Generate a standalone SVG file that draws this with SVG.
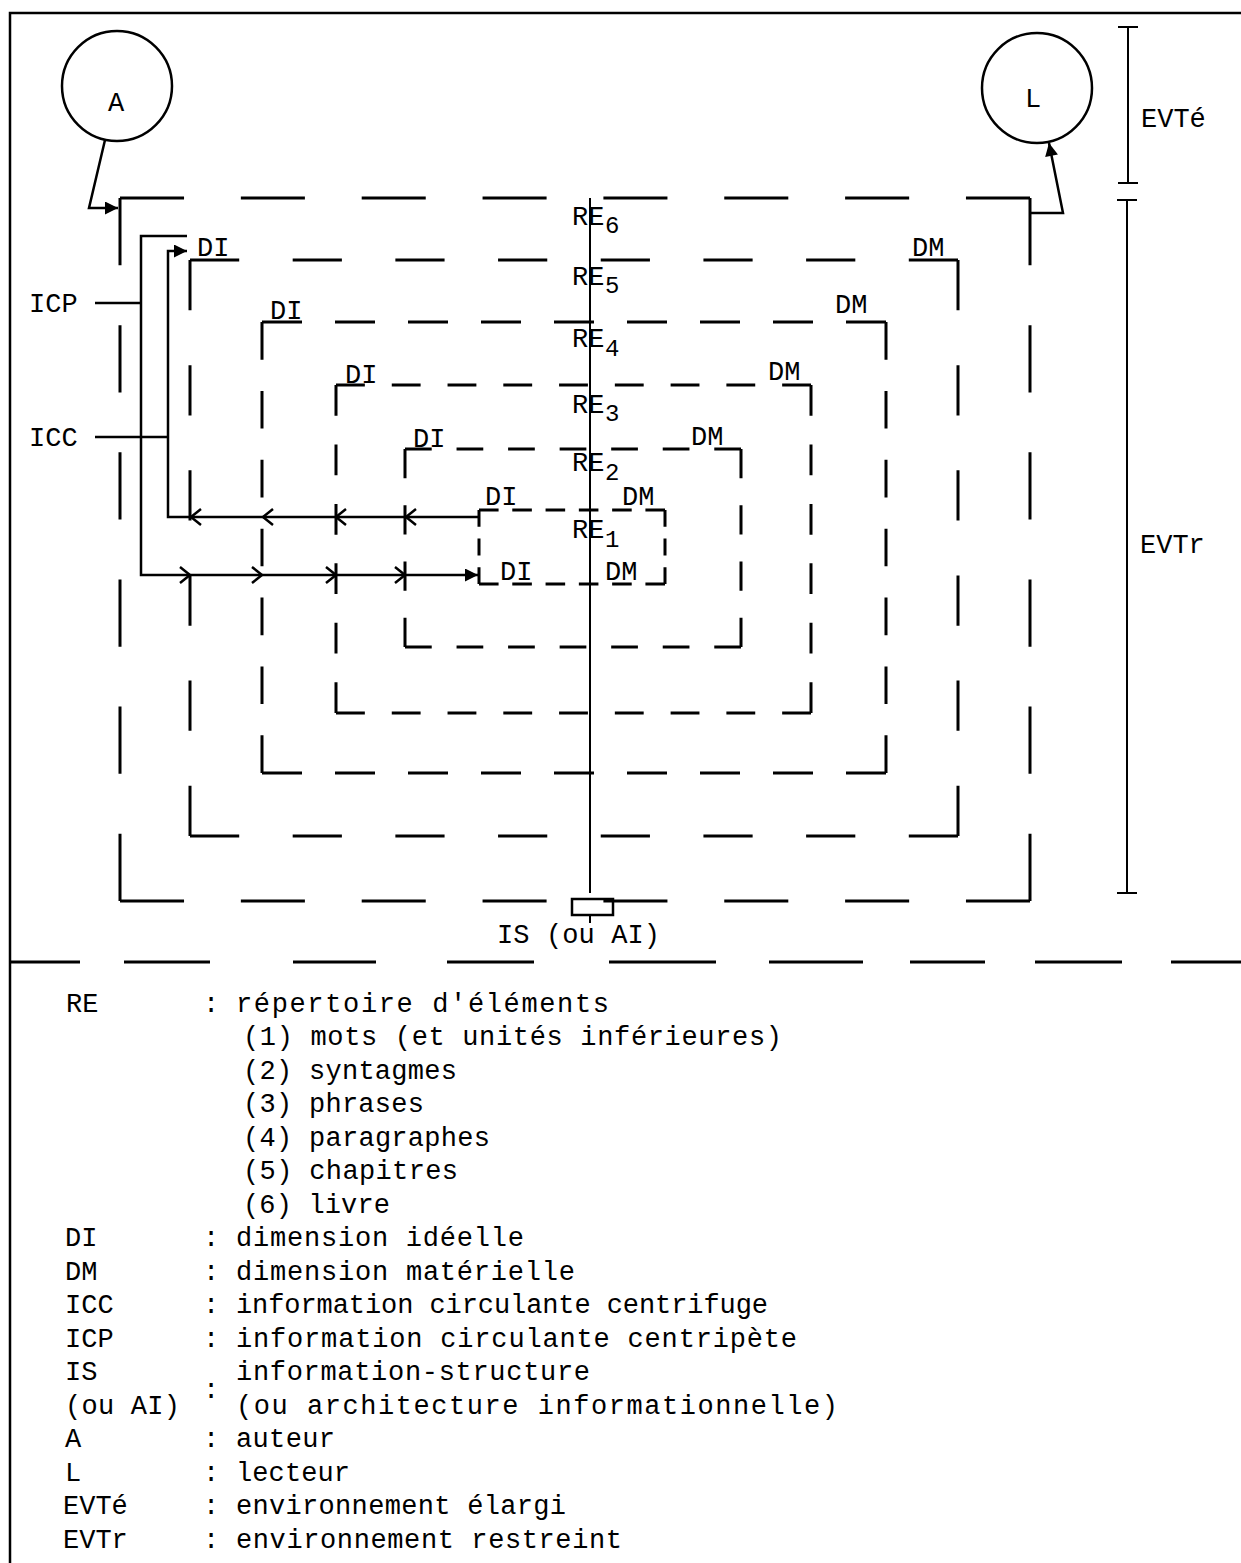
<svg xmlns="http://www.w3.org/2000/svg" width="1241" height="1563" viewBox="0 0 1241 1563">
<style>
.t{font-family:"Liberation Mono","DejaVu Sans Mono",monospace;font-size:27px;fill:#000}
.sub{font-family:"Liberation Mono","DejaVu Sans Mono",monospace;font-size:24px;fill:#000}
.frame{stroke:#000;stroke-width:2.5;fill:none}
.thin{stroke:#000;stroke-width:2;fill:none}
.ln{stroke:#000;stroke-width:2.5;fill:none}
.b6{stroke:#000;stroke-width:3;fill:none;stroke-dasharray:62 55}
.b5{stroke:#000;stroke-width:3;fill:none;stroke-dasharray:46 50}
.b4{stroke:#000;stroke-width:3;fill:none;stroke-dasharray:40 33}
.b3{stroke:#000;stroke-width:3;fill:none;stroke-dasharray:30 28}
.b2{stroke:#000;stroke-width:3;fill:none;stroke-dasharray:28 26}
.b1{stroke:#000;stroke-width:3;fill:none;stroke-dasharray:20 14}
.sep{stroke:#000;stroke-width:3;fill:none}
.chev{stroke:#000;stroke-width:2.5;fill:none}
.circ{stroke:#000;stroke-width:2.5;fill:#fff}
</style>
<defs>
<marker id="ah" viewBox="0 0 10 10" refX="10" refY="5" markerWidth="16" markerHeight="13" markerUnits="userSpaceOnUse" orient="auto">
<path d="M0,0 L10,5 L0,10 z" fill="#000"/>
</marker>
</defs>
<rect width="1241" height="1563" fill="#fff"/>
<g id="frame">
<path class="frame" d="M1241,13 H10 V1563"/>
<path class="sep" d="M10,962 H80 M124,962 H210 M293,962 H376 M447,962 H534 M609,962 H716 M769,962 H863 M910,962 H985 M1035,962 H1122 M1171,962 H1241"/>
</g>
<g id="box6">
<path class="b6" pathLength="881" d="M120,198 H1030"/>
<path class="b6" pathLength="647" d="M1030,198 V901"/>
<path class="b6" pathLength="881" d="M1030,901 H120"/>
<path class="b6" pathLength="647" d="M120,901 V198"/>
</g>
<g id="box5">
<path class="b5" pathLength="718" d="M190,260 H958"/>
<path class="b5" pathLength="526" d="M958,260 V836"/>
<path class="b5" pathLength="718" d="M958,836 H190"/>
<path class="b5" pathLength="526" d="M190,836 V260"/>
<text class="t" x="197" y="256">DI</text>
<text class="t" x="912" y="256">DM</text>
<text class="t" x="572" y="285">RE</text><text class="sub" x="605" y="293">5</text>
</g>
<g id="box4">
<path class="b4" pathLength="624" d="M262,322 H886"/>
<path class="b4" pathLength="478" d="M886,322 V773"/>
<path class="b4" pathLength="624" d="M886,773 H262"/>
<path class="b4" pathLength="478" d="M262,773 V322"/>
<text class="t" x="270" y="319">DI</text>
<text class="t" x="835" y="313">DM</text>
<text class="t" x="572" y="347">RE</text><text class="sub" x="605" y="356">4</text>
</g>
<g id="box3">
<path class="b3" pathLength="494" d="M336,385 H811"/>
<path class="b3" pathLength="320" d="M811,385 V713"/>
<path class="b3" pathLength="494" d="M811,713 H336"/>
<path class="b3" pathLength="320" d="M336,713 V385"/>
<text class="t" x="345" y="383">DI</text>
<text class="t" x="768" y="380">DM</text>
<text class="t" x="572" y="413">RE</text><text class="sub" x="605" y="421">3</text>
</g>
<g id="box2">
<path class="b2" pathLength="352" d="M405,449 H741"/>
<path class="b2" pathLength="190" d="M741,449 V647"/>
<path class="b2" pathLength="352" d="M741,647 H405"/>
<path class="b2" pathLength="190" d="M405,647 V449"/>
<text class="t" x="413" y="447">DI</text>
<text class="t" x="691" y="445">DM</text>
<text class="t" x="572" y="471">RE</text><text class="sub" x="605" y="480">2</text>
</g>
<g id="box1">
<path class="b1" pathLength="190" d="M479,510 H665"/>
<path class="b1" pathLength="88" d="M665,510 V584"/>
<path class="b1" pathLength="190" d="M665,584 H479"/>
<path class="b1" pathLength="88" d="M479,584 V510"/>
<text class="t" x="485" y="505">DI</text>
<text class="t" x="622" y="505">DM</text>
<text class="t" x="572" y="538">RE</text><text class="sub" x="605" y="547">1</text>
<text class="t" x="500" y="580">DI</text>
<text class="t" x="605" y="580">DM</text>
</g>
<g id="re6">
<text class="t" x="572" y="225">RE</text><text class="sub" x="605" y="233">6</text>
</g>
<g id="nodeA">
<circle class="circ" cx="117" cy="86" r="55"/>
<text class="t" x="108" y="111">A</text>
</g>
<g id="nodeL">
<circle class="circ" cx="1037" cy="88" r="55"/>
<text class="t" x="1025" y="107">L</text>
</g>
<g id="nodeIS">
<rect class="ln" x="572" y="899" width="41" height="16"/>
<path class="thin" d="M590,915 V923"/>
<text class="t" x="497" y="943" textLength="163" lengthAdjust="spacing">IS (ou AI)</text>
</g>
<g id="labels">
<text class="t" x="29" y="312">ICP</text>
<text class="t" x="29" y="446">ICC</text>
<text class="t" x="1141" y="127">EVTé</text>
<text class="t" x="1140" y="553">EVTr</text>
</g>
<g id="connectors">
<path class="thin" d="M590,198 V893"/>
<path class="ln" d="M105,140 L89,208 L118,208" marker-end="url(#ah)"/>
<path class="ln" d="M1030,213 H1063 L1049,143" marker-end="url(#ah)"/>
<path class="ln" d="M95,303 H141"/>
<path class="ln" d="M95,437 H168"/>
<path class="ln" d="M187,236 H141 V575 H478" marker-end="url(#ah)"/>
<path class="ln" d="M479,517 H168 V251 H187" marker-end="url(#ah)"/>
<path class="chev" d="M201,509 L191,517 L201,525 M273,509 L263,517 L273,525 M346,509 L336,517 L346,525 M416,509 L406,517 L416,525"/>
<path class="chev" d="M180,567 L190,575 L180,583 M252,567 L262,575 L252,583 M326,567 L336,575 L326,583 M395,567 L405,575 L395,583"/>
<path class="thin" d="M1118,27 H1138 M1128,27 V183 M1118,183 H1138"/>
<path class="thin" d="M1117,200 H1137 M1127,200 V893 M1117,893 H1137"/>
</g>
<g id="legend">
<text class="t" x="66" y="1012">RE</text><text class="t" x="203" y="1012">:</text><text class="t" x="236" y="1012" textLength="373" lengthAdjust="spacing">répertoire d'éléments</text>
<text class="t" x="243" y="1045" textLength="539" lengthAdjust="spacing">(1) mots (et unités inférieures)</text>
<text class="t" x="243" y="1079" textLength="214" lengthAdjust="spacing">(2) syntagmes</text>
<text class="t" x="243" y="1112" textLength="181" lengthAdjust="spacing">(3) phrases</text>
<text class="t" x="243" y="1146" textLength="247" lengthAdjust="spacing">(4) paragraphes</text>
<text class="t" x="243" y="1179" textLength="215" lengthAdjust="spacing">(5) chapitres</text>
<text class="t" x="243" y="1213" textLength="147" lengthAdjust="spacing">(6) livre</text>
<text class="t" x="65" y="1246">DI</text><text class="t" x="203" y="1246">:</text><text class="t" x="236" y="1246" textLength="288" lengthAdjust="spacing">dimension idéelle</text>
<text class="t" x="65" y="1280">DM</text><text class="t" x="203" y="1280">:</text><text class="t" x="236" y="1280" textLength="339" lengthAdjust="spacing">dimension matérielle</text>
<text class="t" x="65" y="1313">ICC</text><text class="t" x="203" y="1313">:</text><text class="t" x="236" y="1313" textLength="532" lengthAdjust="spacing">information circulante centrifuge</text>
<text class="t" x="65" y="1347">ICP</text><text class="t" x="203" y="1347">:</text><text class="t" x="236" y="1347" textLength="561" lengthAdjust="spacing">information circulante centripète</text>
<text class="t" x="65" y="1380">IS</text><text class="t" x="236" y="1380" textLength="354" lengthAdjust="spacing">information-structure</text>
<text class="t" x="203" y="1398">:</text>
<text class="t" x="65" y="1414" textLength="115" lengthAdjust="spacing">(ou AI)</text><text class="t" x="236" y="1414" textLength="602" lengthAdjust="spacing">(ou architecture informationnelle)</text>
<text class="t" x="65" y="1447">A</text><text class="t" x="203" y="1447">:</text><text class="t" x="236" y="1447" textLength="99" lengthAdjust="spacing">auteur</text>
<text class="t" x="65" y="1481">L</text><text class="t" x="203" y="1481">:</text><text class="t" x="236" y="1481" textLength="114" lengthAdjust="spacing">lecteur</text>
<text class="t" x="63" y="1514">EVTé</text><text class="t" x="203" y="1514">:</text><text class="t" x="236" y="1514" textLength="330" lengthAdjust="spacing">environnement élargi</text>
<text class="t" x="63" y="1548">EVTr</text><text class="t" x="203" y="1548">:</text><text class="t" x="236" y="1548" textLength="386" lengthAdjust="spacing">environnement restreint</text>
</g>
</svg>
